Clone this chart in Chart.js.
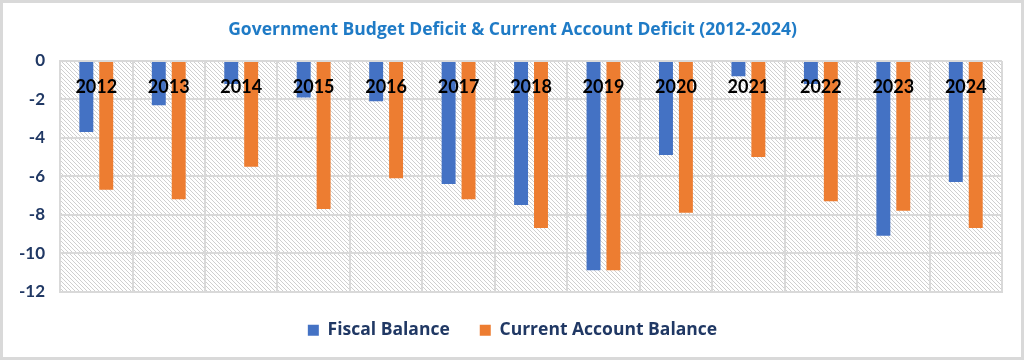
<!DOCTYPE html>
<html>
<head>
<meta charset="utf-8">
<script src="https://cdn.jsdelivr.net/npm/chart.js@4.4.1/dist/chart.umd.min.js"></script>
<style>
  html, body { margin: 0; padding: 0; background: #fff; }
  #wrap { width: 1024px; height: 360px; box-sizing: border-box; border: 3px solid #d9d9d9; }
</style>
</head>
<body>
<div id="wrap"><canvas id="myChart" width="1018" height="354"></canvas></div>
<script>
const years = ['2012', '2013', '2014', '2015', '2016', '2017', '2018', '2019', '2020', '2021', '2022', '2023', '2024'];
const fiscalBalance = [-3.7, -2.3, -1.2, -1.9, -2.1, -6.4, -7.5, -10.9, -4.9, -0.8, -1.2, -9.1, -6.3];
const currentAccountBalance = [-6.7, -7.2, -5.5, -7.7, -6.1, -7.2, -8.7, -10.9, -7.9, -5.0, -7.3, -7.8, -8.7];

const navy = '#203864';
const gridColor = '#d9d9d9';

// diagonal hatch behind the plot
function makeHatch() {
  const s = 4;
  const c = document.createElement('canvas');
  c.width = s; c.height = s;
  const g = c.getContext('2d');
  g.fillStyle = '#ffffff';
  g.fillRect(0, 0, s, s);
  g.strokeStyle = '#cfcfcf';
  g.lineWidth = 1;
  g.beginPath();
  g.moveTo(-1, -1); g.lineTo(s + 1, s + 1);
  g.moveTo(s - 1, -1); g.lineTo(s + 1, 1);
  g.moveTo(-1, s - 1); g.lineTo(1, s + 1);
  g.stroke();
  return g.createPattern(c, 'repeat');
}

const hatchBg = {
  id: 'hatchBg',
  beforeDraw(chart) {
    const a = chart.chartArea;
    const ctx = chart.ctx;
    ctx.save();
    ctx.fillStyle = makeHatch();
    ctx.fillRect(a.left, a.top, a.right - a.left, a.bottom - a.top);
    ctx.restore();
  }
};

// year labels sit inside the plot, over the bars
const yearLabels = {
  id: 'yearLabels',
  afterDatasetsDraw(chart) {
    const ctx = chart.ctx;
    const x = chart.scales.x;
    const top = chart.chartArea.top;
    ctx.save();
    ctx.font = 'bold 18px Lato';
    ctx.fillStyle = '#000';
    ctx.textAlign = 'center';
    ctx.textBaseline = 'middle';
    years.forEach((yr, i) => {
      ctx.fillText(yr, x.getPixelForValue(i), top + 26);
    });
    ctx.restore();
  }
};

const data = {
  labels: years,
  datasets: [{
    label: 'Fiscal Balance',
    backgroundColor: '#4472c4',
    data: fiscalBalance,
  }, {
    label: 'Current Account Balance',
    backgroundColor: '#ed7d31',
    data: currentAccountBalance,
  }]
};

const config = {
  type: 'bar',
  data: data,
  options: {
    responsive: false,
    animation: false,
    categoryPercentage: 0.55,
    barPercentage: 0.7,
    layout: { padding: { left: 1, right: 0, bottom: 8 } },
    plugins: {
      title: {
        display: true,
        text: 'Government Budget Deficit & Current Account Deficit (2012-2024)',
        color: '#1f7bc6',
        font: { family: 'Open Sans', size: 17.5, weight: 'bold' },
        padding: { top: 17, bottom: 20 }
      },
      legend: {
        position: 'bottom',
        labels: {
          color: navy,
          font: { family: 'Open Sans', size: 17.5, weight: 'bold' },
          boxWidth: 11,
          boxHeight: 11,
          padding: 30
        }
      },
      tooltip: { enabled: false }
    },
    scales: {
      x: {
        ticks: { display: false },
        grid: { color: gridColor, lineWidth: 2, drawTicks: false },
        border: { color: gridColor, width: 2 }
      },
      y: {
        min: -12,
        max: 0,
        ticks: {
          stepSize: 2,
          color: navy,
          padding: 15,
          font: { family: 'Lato', size: 17, weight: 'bold' }
        },
        grid: { color: gridColor, lineWidth: 2, drawTicks: false },
        border: { color: gridColor, width: 2 }
      },
      // empty right-hand spacer so title and legend stay centred on the canvas
      yRight: {
        position: 'right',
        ticks: { display: false },
        grid: { display: false },
        border: { display: false },
        afterFit(scale) { scale.width = 19; }
      }
    }
  },
  plugins: [hatchBg, yearLabels]
};

const myChart = new Chart(document.getElementById('myChart'), config);
</script>
</body>
</html>
